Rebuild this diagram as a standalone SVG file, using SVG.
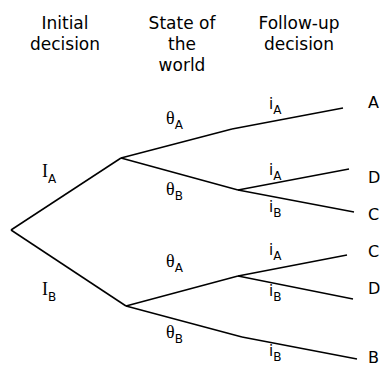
<svg xmlns="http://www.w3.org/2000/svg" width="380" height="367" viewBox="0 0 380 367">
<style>
.h{font-family:"DejaVu Sans",Verdana,sans-serif;font-size:17px;fill:#000;text-anchor:middle}
.t{font-family:"DejaVu Sans",Verdana,sans-serif;font-size:16px;fill:#000}
.g{font-family:"Liberation Serif","Times New Roman",serif;font-size:18px;fill:#000}
.s{font-family:"DejaVu Sans",Verdana,sans-serif;font-size:12px;fill:#000}
.i{font-family:"DejaVu Sans",Verdana,sans-serif;font-size:15px;fill:#000}
.c line{stroke:#000;stroke-width:1.5;fill:none}
</style>
<rect width="380" height="367" fill="#fff"/>
<g id="headers">
<text class="h" x="65" y="29">Initial</text>
<text class="h" x="65" y="50">decision</text>
<text class="h" x="182" y="29">State of</text>
<text class="h" x="182" y="50">the</text>
<text class="h" x="182" y="71">world</text>
<text class="h" x="299" y="29">Follow-up</text>
<text class="h" x="299" y="50">decision</text>
</g>
<g class="c" id="connectors">
<line x1="11" y1="230" x2="121" y2="158"/>
<line x1="11" y1="230" x2="126" y2="306"/>
<line x1="121" y1="158" x2="232" y2="129"/>
<line x1="121" y1="158" x2="238" y2="190"/>
<line x1="126" y1="306" x2="238" y2="276"/>
<line x1="126" y1="306" x2="242" y2="337"/>
<line x1="232" y1="129" x2="343" y2="108"/>
<line x1="238" y1="190" x2="349" y2="169"/>
<line x1="238" y1="190" x2="354" y2="212"/>
<line x1="238" y1="276" x2="347" y2="255"/>
<line x1="238" y1="276" x2="353" y2="299"/>
<line x1="242" y1="337" x2="357" y2="359"/>
</g>
<g id="edge-labels">
<text x="42" y="177"><tspan class="g">I</tspan><tspan class="s" dy="6">A</tspan></text>
<text x="42" y="295"><tspan class="g">I</tspan><tspan class="s" dy="6">B</tspan></text>
<text x="166" y="124"><tspan class="g">θ</tspan><tspan class="s" dy="5">A</tspan></text>
<text x="166" y="195"><tspan class="g">θ</tspan><tspan class="s" dy="5">B</tspan></text>
<text x="166" y="267"><tspan class="g">θ</tspan><tspan class="s" dy="5">A</tspan></text>
<text x="166" y="338"><tspan class="g">θ</tspan><tspan class="s" dy="5">B</tspan></text>
<text x="269" y="109"><tspan class="i">i</tspan><tspan class="s" dy="5">A</tspan></text>
<text x="269" y="175"><tspan class="i">i</tspan><tspan class="s" dy="5">A</tspan></text>
<text x="269" y="212"><tspan class="i">i</tspan><tspan class="s" dy="5">B</tspan></text>
<text x="269" y="255"><tspan class="i">i</tspan><tspan class="s" dy="5">A</tspan></text>
<text x="269" y="296"><tspan class="i">i</tspan><tspan class="s" dy="5">B</tspan></text>
<text x="269" y="356"><tspan class="i">i</tspan><tspan class="s" dy="5">B</tspan></text>
</g>
<g id="outcome-A1"><text class="t" x="368" y="108">A</text></g>
<g id="outcome-D1"><text class="t" x="368" y="183">D</text></g>
<g id="outcome-C1"><text class="t" x="368" y="220">C</text></g>
<g id="outcome-C2"><text class="t" x="368" y="257">C</text></g>
<g id="outcome-D2"><text class="t" x="368" y="294">D</text></g>
<g id="outcome-B"><text class="t" x="368" y="363">B</text></g>
</svg>
